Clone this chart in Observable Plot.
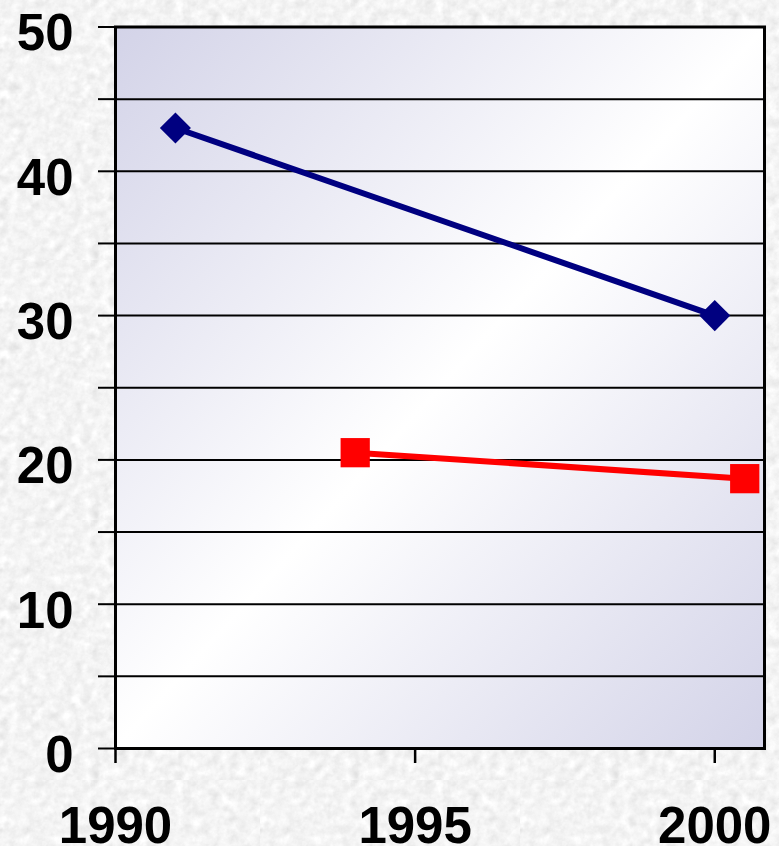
<!DOCTYPE html>
<html>
<head>
<meta charset="utf-8">
<script src="https://cdn.jsdelivr.net/npm/d3@7"></script>
<script src="https://cdn.jsdelivr.net/npm/@observablehq/plot@0.6"></script>
<style>
  html, body { margin: 0; padding: 0; }
  body {
    width: 779px; height: 846px; overflow: hidden;
    background-color: #e4e4e4;
    background-image: url("data:image/svg+xml,%3Csvg xmlns='http://www.w3.org/2000/svg' width='260' height='260'%3E%3Cfilter id='n'%3E%3CfeTurbulence type='fractalNoise' baseFrequency='0.11' numOctaves='4' stitchTiles='stitch'/%3E%3CfeColorMatrix type='matrix' values='0.33 0.33 0.33 0 0 0.33 0.33 0.33 0 0 0.33 0.33 0.33 0 0 0 0 0 0 1'/%3E%3CfeComponentTransfer%3E%3CfeFuncR type='linear' slope='0.55' intercept='0.63'/%3E%3CfeFuncG type='linear' slope='0.55' intercept='0.63'/%3E%3CfeFuncB type='linear' slope='0.55' intercept='0.63'/%3E%3C/feComponentTransfer%3E%3C/filter%3E%3Crect width='100%25' height='100%25' filter='url(%23n)'/%3E%3C/svg%3E");
  }
</style>
</head>
<body>
<div id="chart"></div>
<script>
// Data
const blueYears = [1991, 2000];
const blueValues = [43, 30];
const redYears = [1994, 2000.5];
const redValues = [20.5, 18.7];
const yLabelTicks = [0, 10, 20, 30, 40, 50];
const yGridTicks = [0, 5, 10, 15, 20, 25, 30, 35, 40, 45, 50];
const xLabelTicks = [1990, 1995, 2000];

const blue = blueYears.map((x, i) => ({x, y: blueValues[i]}));
const red = redYears.map((x, i) => ({x, y: redValues[i]}));

const defs = () => {
  const g = d3.create("svg:defs");
  const lg = g.append("linearGradient").attr("id", "bgGrad")
    .attr("x1", 0).attr("y1", 0).attr("x2", 1).attr("y2", 1);
  lg.append("stop").attr("offset", "0%").attr("stop-color", "#d3d3e8");
  lg.append("stop").attr("offset", "50%").attr("stop-color", "#ffffff");
  lg.append("stop").attr("offset", "100%").attr("stop-color", "#d3d3e8");
  return g.node();
};

const font = "'Liberation Sans', Arial, sans-serif";

const chart = Plot.plot({
  width: 779,
  height: 846,
  marginLeft: 115,
  marginRight: 15,
  marginTop: 26.5,
  marginBottom: 98,
  style: {background: "transparent", fontFamily: font, fontWeight: "bold", color: "black", overflow: "visible"},
  x: {domain: [1990, 2000.83]},
  y: {domain: [0, 50]},
  marks: [
    defs,
    Plot.frame({fill: "url(#bgGrad)", stroke: null}),
    Plot.gridY(yGridTicks, {stroke: "black", strokeOpacity: 1, strokeWidth: 2}),
    Plot.axisY(yGridTicks, {tickSize: 17, tickFormat: () => "", strokeWidth: 2, stroke: "black", label: null}),
    Plot.axisY(yLabelTicks, {tickSize: 0, tickPadding: 42, fontSize: 51, fontWeight: "bold", dy: 7, label: null, fill: "black"}),
    Plot.axisX(xLabelTicks, {tickSize: 15, tickPadding: 43, fontSize: 51, fontWeight: "bold", tickFormat: d => String(d), label: null, strokeWidth: 2.5, stroke: "black", fill: "black"}),
    Plot.frame({stroke: "black", strokeWidth: 3}),
    Plot.line(blue, {x: "x", y: "y", stroke: "#000080", strokeWidth: 6}),
    Plot.dot(blue, {x: "x", y: "y", symbol: "diamond2", r: 14, fill: "#000080", stroke: null}),
    Plot.line(red, {x: "x", y: "y", stroke: "#ff0000", strokeWidth: 6}),
    Plot.dot(red, {x: "x", y: "y", symbol: "square", r: 16.5, fill: "#ff0000", stroke: null})
  ]
});
document.getElementById("chart").appendChild(chart);
</script>
</body>
</html>
